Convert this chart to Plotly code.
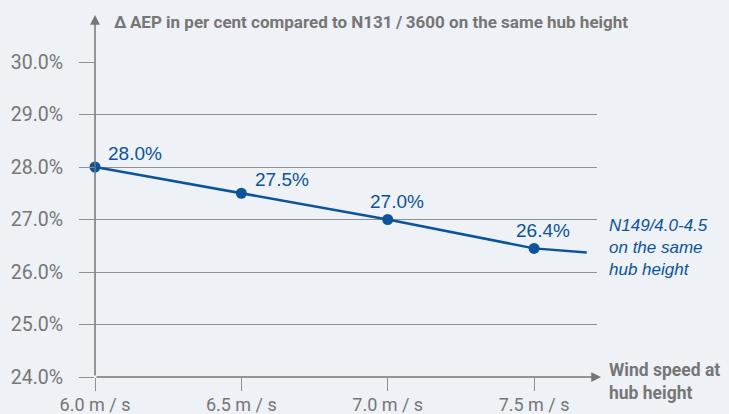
import plotly.graph_objects as go

# Data
wind_speed = [6.0, 6.5, 7.0, 7.5]
delta_aep = [28.0, 27.5, 27.0, 26.45]
point_labels = ["28.0%", "27.5%", "27.0%", "26.4%"]
line_end_speed = 7.68
line_end_aep = 26.37
x_tickvals = [6.0, 6.5, 7.0, 7.5]
x_ticktext = ["6.0 m / s", "6.5 m / s", "7.0 m / s", "7.5 m / s"]
y_tickvals = [24, 25, 26, 27, 28, 29, 30]
y_ticktext = ["24.0%", "25.0%", "26.0%", "27.0%", "28.0%", "29.0%", "30.0%"]

BLUE = "#0b5499"
GRAY = "#767676"
GRID = "#8f8f8f"
BG = "#eef1f6"
FONT = "Roboto, Liberation Sans, Arial, sans-serif"
BFONT = "Liberation Sans, Arial, sans-serif"

fig = go.Figure()

# line incl. extension
fig.add_trace(go.Scatter(
    x=wind_speed + [line_end_speed], y=delta_aep + [line_end_aep],
    mode="lines", line=dict(color=BLUE, width=2.5), hoverinfo="skip",
    showlegend=False, cliponaxis=False))
# markers
fig.add_trace(go.Scatter(
    x=wind_speed, y=delta_aep, mode="markers",
    marker=dict(color=BLUE, size=11),
    showlegend=False, cliponaxis=False))

# value labels
label_style = [("left", 11, 14), ("left", 12, 14), ("center", 9, 18), ("center", 9, 18)]
annotations = []
for ws, v, lab, (xa, xs, ys) in zip(wind_speed, delta_aep, point_labels, label_style):
    annotations.append(dict(x=ws, y=v, text=lab, showarrow=False, xanchor=xa,
                            yanchor="middle", xshift=xs, yshift=ys,
                            font=dict(color=BLUE, size=19, family=BFONT)))

annotations += [
    # y-axis arrow
    dict(xref="paper", yref="paper", x=0, y=1.149, ax=0, ay=362,
         showarrow=True, arrowhead=2,
         arrowsize=1.3, arrowwidth=1.5, arrowcolor=GRAY, text=""),
    # x-axis arrow
    dict(xref="paper", yref="paper", x=1.008, y=0, ax=-506, ay=0,
         showarrow=True, arrowhead=2, arrowsize=1.3, arrowwidth=1.5,
         arrowcolor=GRAY, text=""),
    dict(xref="paper", yref="paper", x=0.034, y=1.127, xanchor="left",
         yanchor="middle", showarrow=False,
         text="<b>\u0394\u2009AEP in per cent compared to N131\u2009/\u20093600 on the same hub height</b>",
         font=dict(size=17, color=GRAY)),
    dict(xref="paper", yref="paper", x=1.02, y=-0.013, xanchor="left",
         yanchor="middle", showarrow=False, align="left",
         text="<b>Wind speed at<br>hub height</b>",
         font=dict(size=17.5, color=GRAY)),
    dict(xref="paper", yref="paper", x=1.02, y=0.41, xanchor="left",
         yanchor="middle", showarrow=False, align="left",
         text="<i>N149/4.0-4.5<br>on the same<br>hub height</i>",
         font=dict(size=17, color=BLUE, family=BFONT)),
]

fig.update_layout(
    width=729, height=414,
    margin=dict(l=95, r=132, t=62, b=37),
    paper_bgcolor=BG, plot_bgcolor=BG,
    font=dict(family=FONT, color=GRAY, size=16),
    xaxis=dict(range=[6.0, 7.715], tickvals=x_tickvals, ticktext=x_ticktext,
               showgrid=False, zeroline=False, showline=False, automargin=False,
               ticks="outside", ticklen=13, tickwidth=1.2, tickcolor=GRID,
               ticklabelstandoff=-2,
               tickfont=dict(size=18, color=GRAY)),
    yaxis=dict(range=[24, 30], tickvals=y_tickvals, ticktext=y_ticktext,
               showgrid=True, gridcolor=GRID, gridwidth=1.2, zeroline=False,
               showline=False, automargin=False, ticks="outside", ticklen=15,
               tickwidth=1.2, ticklabelstandoff=12,
               tickcolor=GRID, tickfont=dict(size=19.5, color=GRAY)),
    annotations=annotations,
)

fig.write_html("out.html", config={"displayModeBar": False},
               post_script="document.body.style.margin='0';")
